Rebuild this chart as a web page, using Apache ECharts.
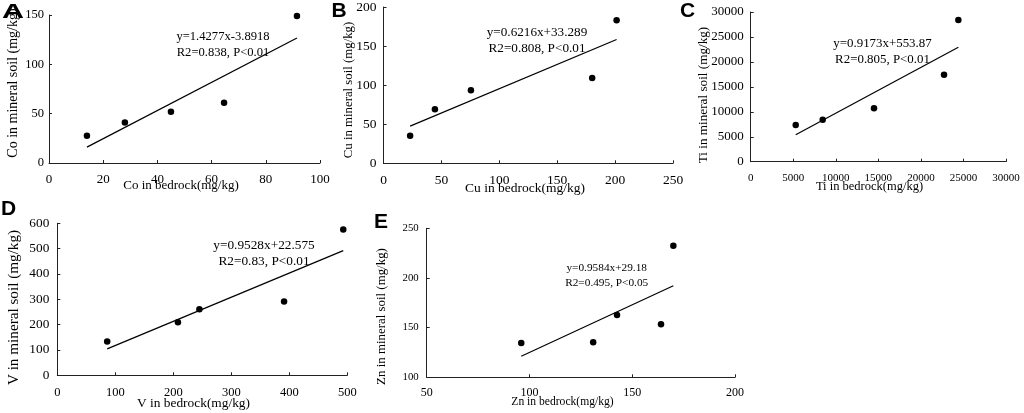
<!DOCTYPE html>
<html>
<head>
<meta charset="utf-8">
<script src="https://cdn.jsdelivr.net/npm/echarts@6/dist/echarts.min.js"></script>
<style>
  html, body { margin: 0; padding: 0; background: #fff; }
  #main { width: 1024px; height: 413px; }
</style>
</head>
<body>
<div id="main"></div>
<script>
// panel A - Co
const coBedrock = [14, 28, 45, 64.6, 91.5];
const coSoil = [27.5, 41, 52, 61, 149];
const coFitX = [14, 91.5];
const coFitY = [16.1, 126.7];
const coTicksX = [0, 100, 20];
const coTicksY = [0, 150, 50];

// panel B - Cu
const cuBedrock = [23, 44.4, 75.5, 180.2, 201.3];
const cuSoil = [35.3, 69.2, 93.4, 109, 183.2];
const cuFitX = [23, 201.3];
const cuFitY = [47.6, 158.4];
const cuTicksX = [0, 250, 50];
const cuTicksY = [0, 200, 50];

// panel C - Ti
const tiBedrock = [5290, 8460, 14490, 22720, 24400];
const tiSoil = [7360, 8420, 10700, 17440, 28400];
const tiFitX = [5290, 24400];
const tiFitY = [5400, 22930];
const tiTicksX = [0, 30000, 5000];
const tiTicksY = [0, 30000, 5000];

// panel D - V
const vBedrock = [86, 208, 245, 391, 493];
const vSoil = [133, 209, 261, 291, 576];
const vFitX = [86, 493];
const vFitY = [104.5, 492.3];
const vTicksX = [0, 500, 100];
const vTicksY = [0, 600, 100];

// panel E - Zn
const znBedrock = [96, 131, 142.6, 164, 170];
const znSoil = [134.5, 135.2, 162.7, 153.4, 232.5];
const znFitX = [96, 170];
const znFitY = [121.2, 192.1];
const znTicksX = [50, 200, 50];
const znTicksY = [100, 250, 50];

const letters = ['A', 'B', 'C', 'D', 'E'];
const xTitles = ['Co in bedrock(mg/kg)', 'Cu in bedrock(mg/kg)', 'Ti in bedrock(mg/kg)', 'V in bedrock(mg/kg)', 'Zn in bedrock(mg/kg)'];
const yTitles = ['Co in mineral soil (mg/kg)', 'Cu in mineral soil (mg/kg)', 'Ti in mineral soil (mg/kg)', 'V in mineral soil (mg/kg)', 'Zn in mineral soil (mg/kg)'];
const equations = ['y=1.4277x-3.8918', 'y=0.6216x+33.289', 'y=0.9173x+553.87', 'y=0.9528x+22.575', 'y=0.9584x+29.18'];
const stats = ['R2=0.838, P<0.01', 'R2=0.808, P<0.01', 'R2=0.805, P<0.01', 'R2=0.83, P<0.01', 'R2=0.495, P<0.05'];

const SERIF = '"Liberation Serif", "Times New Roman", serif';
const INK = '#000';

// layout of each panel (pixels)
const panels = [
    { grid: [49, 15, 271, 148], bx: coBedrock, sy: coSoil, fx: coFitX, fy: coFitY, tx: coTicksX, ty: coTicksY,
      xFont: 13, yFont: 12.5, yMargin: 5, xMargin: 10,
      letter: [13, 12.5, 1.45], xt: [181, 186, 13], yt: [13.5, 83, 14], eq: [223, 37, 53, 12.6] },
    { grid: [383.5, 1.5, 289.5, 161.8], bx: cuBedrock, sy: cuSoil, fx: cuFitX, fy: cuFitY, tx: cuTicksX, ty: cuTicksY,
      xFont: 13.5, yFont: 13.5, yMargin: 7, xMargin: 10,
      letter: [339, 11, 1], xt: [525, 188.5, 13.5], yt: [348.5, 90, 12.8], eq: [537, 32.5, 48.5, 13.2] },
    { grid: [750.7, 12, 255.3, 149.7], bx: tiBedrock, sy: tiSoil, fx: tiFitX, fy: tiFitY, tx: tiTicksX, ty: tiTicksY,
      xFont: 11, yFont: 13, yMargin: 7, xMargin: 11,
      letter: [687.5, 11.5, 1], xt: [869.5, 187, 12.5], yt: [703.5, 95, 13.2], eq: [882.5, 43.5, 60, 12.9] },
    { grid: [57.3, 223.3, 290, 152], bx: vBedrock, sy: vSoil, fx: vFitX, fy: vFitY, tx: vTicksX, ty: vTicksY,
      xFont: 12.5, yFont: 13.3, yMargin: 8, xMargin: 11,
      letter: [8.5, 209, 1], xt: [193.5, 403.5, 13.4], yt: [14, 307.5, 15.2], eq: [264, 246, 262, 13.3] },
    { grid: [426.7, 228.3, 308.3, 149], bx: znBedrock, sy: znSoil, fx: znFitX, fy: znFitY, tx: znTicksX, ty: znTicksY,
      xFont: 12, yFont: 10.8, yMargin: 8, xMargin: 10,
      letter: [381, 222.5, 1], xt: [562.5, 402, 11.6], yt: [382, 316.5, 12.9], eq: [606.7, 268.5, 283, 11.3] }
];

const zip = (a, b) => a.map((v, i) => [v, b[i]]);
const plain = v => String(v);

const grids = [], xAxes = [], yAxes = [], series = [], graphics = [];

panels.forEach((p, i) => {
    grids.push({ left: p.grid[0], top: p.grid[1], width: p.grid[2], height: p.grid[3] });

    const axisCommon = {
        gridIndex: i,
        type: 'value',
        splitLine: { show: false },
        axisLine: { show: true, onZero: false, lineStyle: { color: '#222', width: 1 } },
        axisTick: { show: true, inside: true, length: 3, lineStyle: { color: '#222' } }
    };
    xAxes.push(Object.assign({}, axisCommon, {
        min: p.tx[0], max: p.tx[1], interval: p.tx[2],
        axisLabel: { fontFamily: SERIF, fontSize: p.xFont, color: INK, margin: p.xMargin,
                     showMaxLabel: true, formatter: plain }
    }));
    yAxes.push(Object.assign({}, axisCommon, {
        min: p.ty[0], max: p.ty[1], interval: p.ty[2],
        axisLabel: { fontFamily: SERIF, fontSize: p.yFont, color: INK, margin: p.yMargin,
                     showMaxLabel: true, formatter: plain }
    }));

    series.push({
        type: 'scatter',
        xAxisIndex: i, yAxisIndex: i,
        data: zip(p.bx, p.sy),
        symbolSize: 6.5,
        itemStyle: { color: '#000', opacity: 1 },
        silent: true
    });
    series.push({
        type: 'line',
        xAxisIndex: i, yAxisIndex: i,
        data: zip(p.fx, p.fy),
        symbol: 'none',
        lineStyle: { color: '#000', width: 1.2 },
        silent: true
    });

    // panel letter
    graphics.push({
        type: 'text', x: p.letter[0], y: p.letter[1], scaleX: p.letter[2],
        style: { text: letters[i], x: 0, y: 0, align: 'center', verticalAlign: 'middle',
                 font: 'bold 21px "Liberation Sans", Arial, sans-serif', fill: '#000' }
    });
    // x axis title
    graphics.push({
        type: 'text', x: p.xt[0], y: p.xt[1],
        style: { text: xTitles[i], x: 0, y: 0, align: 'center', verticalAlign: 'middle',
                 font: p.xt[2] + 'px ' + SERIF, fill: INK }
    });
    // y axis title
    graphics.push({
        type: 'text', x: p.yt[0], y: p.yt[1], rotation: Math.PI / 2,
        style: { text: yTitles[i], x: 0, y: 0, align: 'center', verticalAlign: 'middle',
                 font: p.yt[2] + 'px ' + SERIF, fill: INK }
    });
    // regression annotation
    graphics.push({
        type: 'text', x: p.eq[0], y: p.eq[1],
        style: { text: equations[i], x: 0, y: 0, align: 'center', verticalAlign: 'middle',
                 font: p.eq[3] + 'px ' + SERIF, fill: INK }
    });
    graphics.push({
        type: 'text', x: p.eq[0], y: p.eq[2],
        style: { text: stats[i], x: 0, y: 0, align: 'center', verticalAlign: 'middle',
                 font: p.eq[3] + 'px ' + SERIF, fill: INK }
    });
});

const chart = echarts.init(document.getElementById('main'), null, { renderer: 'canvas' });
chart.setOption({
    animation: false,
    backgroundColor: '#fff',
    grid: grids,
    xAxis: xAxes,
    yAxis: yAxes,
    series: series,
    graphic: graphics
});
</script>
</body>
</html>
